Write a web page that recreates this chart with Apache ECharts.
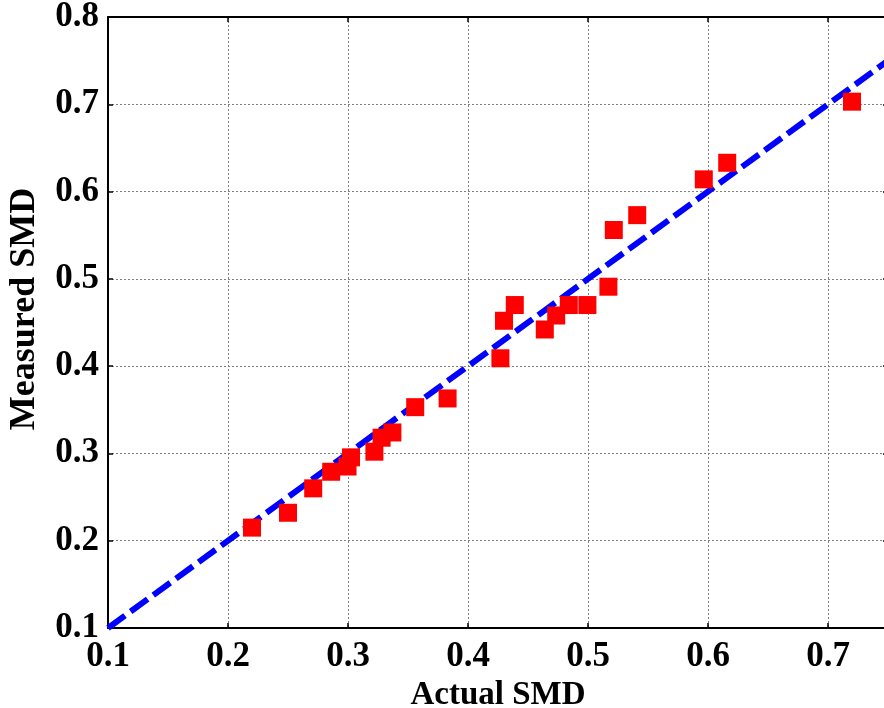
<!DOCTYPE html>
<html>
<head>
<meta charset="utf-8">
<script src="https://cdn.jsdelivr.net/npm/echarts@6/dist/echarts.min.js"></script>
<style>
html,body{margin:0;padding:0;background:#fff;}
#chart{width:884px;height:708px;}
</style>
</head>
<body>
<div id="chart"></div>
<script>
const actualSMD = [0.220, 0.250, 0.271, 0.286, 0.2996, 0.3025, 0.322, 0.328, 0.337, 0.356, 0.383, 0.427, 0.430, 0.439, 0.464, 0.4735, 0.484, 0.4995, 0.517, 0.5215, 0.541, 0.5965, 0.616, 0.720];
const measuredSMD = [0.215, 0.232, 0.260, 0.279, 0.285, 0.2955, 0.302, 0.318, 0.324, 0.353, 0.363, 0.409, 0.452, 0.470, 0.442, 0.458, 0.470, 0.470, 0.491, 0.556, 0.573, 0.614, 0.633, 0.703];
const idealX = [0.1, 0.75];
const idealY = [0.1, 0.75];
const xTicks = [0.1, 0.2, 0.3, 0.4, 0.5, 0.6, 0.7];
const yTicks = [0.1, 0.2, 0.3, 0.4, 0.5, 0.6, 0.7, 0.8];
const xTitle = 'Actual SMD';
const yTitle = 'Measured SMD';

const FONT = "'Liberation Serif', 'Times New Roman', serif";
const chart = echarts.init(document.getElementById('chart'), null, {renderer: 'canvas'});

const gridLine = {show: true, lineStyle: {color: '#808080', width: 1, type: [2, 2]}};
const axisLine = {show: true, onZero: false, lineStyle: {color: '#000', width: 2}};
const ticks = {show: true, inside: true, length: 5, lineStyle: {color: '#000', width: 1.5}};

chart.setOption({
  animation: false,
  backgroundColor: '#fff',
  grid: {left: 108, top: 17, width: 780, height: 611, containLabel: false, outerBoundsMode: 'none'},
  graphic: [{
    type: 'text', z: 10,
    rotation: Math.PI / 2,
    x: 25, y: 309,
    style: {text: yTitle, font: "bold 36px 'Liberation Serif', 'Times New Roman', serif",
      fill: '#000', align: 'center', verticalAlign: 'middle'}
  }],
  xAxis: [{
    type: 'value', min: 0.1, max: 0.75, interval: 0.1, position: 'bottom',
    name: xTitle, nameLocation: 'middle', nameGap: 44,
    nameTextStyle: {fontFamily: FONT, fontWeight: 'bold', fontSize: 33, color: '#000'},
    axisLine: axisLine, axisTick: ticks, splitLine: gridLine,
    axisLabel: {show: true, margin: 11, fontFamily: FONT, fontWeight: 'bold', fontSize: 35, color: '#000',
      showMaxLabel: false,
      formatter: v => xTicks.some(t => Math.abs(t - v) < 1e-9) ? v.toFixed(1) : ''}
  }, {
    type: 'value', min: 0.1, max: 0.75, interval: 0.1, position: 'top',
    axisLine: axisLine, axisTick: ticks, splitLine: {show: false}, axisLabel: {show: false}
  }],
  yAxis: [{
    type: 'value', min: 0.1, max: 0.8, interval: 0.1, position: 'left',
    axisLine: axisLine, axisTick: ticks, splitLine: gridLine,
    axisLabel: {show: true, margin: 9, fontFamily: FONT, fontWeight: 'bold', fontSize: 35, color: '#000',
      formatter: v => yTicks.some(t => Math.abs(t - v) < 1e-9) ? v.toFixed(1) : ''}
  }, {
    type: 'value', min: 0.1, max: 0.8, interval: 0.1, position: 'right',
    axisLine: axisLine, axisTick: ticks, splitLine: {show: false}, axisLabel: {show: false}
  }],
  series: [{
    type: 'line', xAxisIndex: 0, yAxisIndex: 0,
    data: idealX.map((x, i) => [x, idealY[i]]),
    symbol: 'none', z: 2,
    lineStyle: {color: '#0000ff', width: 6, type: [21, 7]}
  }, {
    type: 'scatter', xAxisIndex: 0, yAxisIndex: 0,
    data: actualSMD.map((x, i) => [x, measuredSMD[i]]),
    symbol: 'rect', symbolSize: 18, z: 3,
    itemStyle: {color: '#ff0000', opacity: 1}
  }]
});
</script>
</body>
</html>
